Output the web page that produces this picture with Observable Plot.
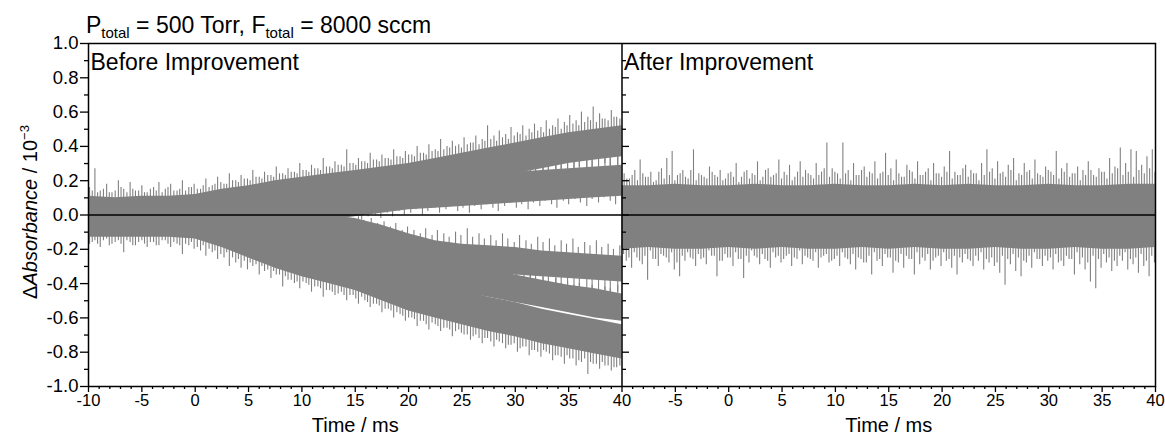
<!DOCTYPE html>
<html>
<head>
<meta charset="utf-8">
<script src="https://cdn.jsdelivr.net/npm/d3@7"></script>
<script src="https://cdn.jsdelivr.net/npm/@observablehq/plot@0.6"></script>
<style>
  html, body { margin: 0; padding: 0; background: #fff; }
  #chart svg { display: block; }
</style>
</head>
<body>
<div id="chart"></div>
<script>
// ---------------- data ----------------
const panels = ["Before Improvement", "After Improvement"];
const timeDomain = [-10, 40];
const timeTicks = [-10, -5, 0, 5, 10, 15, 20, 25, 30, 35, 40];
const yMajor = [-1.0, -0.8, -0.6, -0.4, -0.2, 0.0, 0.2, 0.4, 0.6, 0.8, 1.0];
const yMinor = [-0.9, -0.7, -0.5, -0.3, -0.1, 0.1, 0.3, 0.5, 0.7, 0.9];

// dense core of each trace (lower / upper edge), sampled every 2.5 ms
const bandTime = [-10,-7.5,-5,-2.5,0,2.5,5,7.5,10,12.5,15,17.5,20,22.5,25,27.5,30,32.5,35,37.5,40];
// Before Improvement: five traces
const u1Hi = [0.11,0.10,0.11,0.11,0.12,0.15,0.17,0.20,0.22,0.24,0.26,0.28,0.30,0.33,0.36,0.39,0.42,0.45,0.48,0.50,0.52];
const u1Lo = [-0.09,-0.09,-0.08,-0.07,-0.06,-0.03,-0.01,0.02,0.04,0.06,0.08,0.10,0.12,0.15,0.18,0.21,0.24,0.27,0.30,0.32,0.34];
const u2Hi = [0.09,0.09,0.09,0.09,0.10,0.11,0.12,0.13,0.15,0.16,0.18,0.20,0.21,0.22,0.23,0.24,0.25,0.26,0.27,0.28,0.29];
const u2Lo = [-0.09,-0.09,-0.09,-0.09,-0.08,-0.07,-0.06,-0.05,-0.04,-0.03,-0.01,0.01,0.03,0.04,0.05,0.06,0.07,0.08,0.09,0.10,0.11];
const l1Hi = [0.08,0.08,0.08,0.08,0.07,0.05,0.04,0.03,0.02,0.00,-0.02,-0.06,-0.11,-0.15,-0.17,-0.18,-0.19,-0.21,-0.22,-0.23,-0.24];
const l1Lo = [-0.10,-0.10,-0.10,-0.11,-0.12,-0.14,-0.16,-0.18,-0.21,-0.24,-0.26,-0.28,-0.30,-0.32,-0.33,-0.34,-0.35,-0.36,-0.37,-0.38,-0.39];
const l2Hi = [0.08,0.08,0.08,0.07,0.06,0.02,-0.02,-0.05,-0.09,-0.12,-0.16,-0.19,-0.22,-0.25,-0.29,-0.32,-0.35,-0.38,-0.41,-0.43,-0.46];
const l2Lo = [-0.11,-0.11,-0.11,-0.12,-0.13,-0.16,-0.19,-0.22,-0.26,-0.29,-0.32,-0.35,-0.38,-0.41,-0.45,-0.48,-0.51,-0.54,-0.57,-0.60,-0.62];
const l3Hi = [0.08,0.08,0.08,0.07,0.05,-0.01,-0.07,-0.13,-0.18,-0.22,-0.26,-0.31,-0.36,-0.40,-0.44,-0.48,-0.51,-0.55,-0.58,-0.61,-0.64];
const l3Lo = [-0.13,-0.13,-0.13,-0.13,-0.14,-0.19,-0.25,-0.31,-0.36,-0.40,-0.44,-0.50,-0.56,-0.60,-0.64,-0.68,-0.71,-0.75,-0.78,-0.81,-0.84];
// After Improvement: all traces overlap around zero
const rHi = [0.17,0.17,0.18,0.17,0.17,0.18,0.17,0.17,0.18,0.17,0.17,0.18,0.17,0.18,0.17,0.17,0.18,0.17,0.17,0.18,0.18];
const rLo = [-0.20,-0.19,-0.20,-0.20,-0.19,-0.20,-0.19,-0.20,-0.20,-0.19,-0.20,-0.19,-0.20,-0.20,-0.19,-0.20,-0.20,-0.19,-0.20,-0.20,-0.19];

// noise spikes sticking out of the cores (time, tip value)
const leftSpikeTime = [-9.9,-9.4,-8.9,-8.3,-7.8,-7.2,-6.7,-6.1,-5.6,-5.0,-4.5,-3.9,-3.4,-2.8,-2.3,-1.7,-1.2,-0.6,-0.1,0.5,1.0,1.6,2.1,2.7,3.2,3.8,4.3,4.9,5.4,6.0,6.5,7.1,7.6,8.2,8.7,9.3,9.8,10.4,10.9,11.5,12.0,12.6,13.1,13.7,14.2,14.8,15.3,15.9,16.4,17.0,17.5,18.1,18.6,19.2,19.7,20.3,20.8,21.4,21.9,22.5,23.0,23.6,24.1,24.7,25.2,25.8,26.3,26.9,27.4,28.0,28.5,29.1,29.6,30.2,30.7,31.3,31.8,32.4,32.9,33.5,34.0,34.6,35.1,35.7,36.2,36.8,37.3,37.9,38.4,39.0,39.5];
const u1SpikeTip = [0.16,0.27,0.14,0.18,0.13,0.20,0.15,0.19,0.14,0.17,0.13,0.16,0.19,0.15,0.18,0.14,0.20,0.16,0.18,0.15,0.21,0.17,0.22,0.18,0.24,0.20,0.23,0.21,0.26,0.22,0.25,0.23,0.28,0.24,0.27,0.25,0.30,0.26,0.29,0.27,0.33,0.28,0.31,0.29,0.38,0.30,0.33,0.31,0.36,0.32,0.35,0.33,0.38,0.34,0.37,0.35,0.40,0.36,0.41,0.38,0.44,0.40,0.43,0.41,0.45,0.42,0.46,0.44,0.52,0.46,0.49,0.47,0.51,0.48,0.52,0.50,0.53,0.51,0.55,0.52,0.56,0.54,0.58,0.55,0.60,0.57,0.63,0.59,0.56,0.61,0.57];
const l3SpikeTip = [-0.17,-0.15,-0.19,-0.14,-0.17,-0.15,-0.22,-0.16,-0.18,-0.15,-0.19,-0.16,-0.18,-0.15,-0.19,-0.17,-0.23,-0.18,-0.20,-0.21,-0.24,-0.22,-0.26,-0.25,-0.30,-0.28,-0.31,-0.32,-0.30,-0.35,-0.33,-0.37,-0.35,-0.42,-0.38,-0.40,-0.43,-0.40,-0.45,-0.42,-0.48,-0.44,-0.47,-0.45,-0.50,-0.47,-0.52,-0.50,-0.54,-0.52,-0.57,-0.55,-0.60,-0.58,-0.62,-0.60,-0.65,-0.62,-0.67,-0.64,-0.68,-0.66,-0.71,-0.67,-0.70,-0.73,-0.70,-0.75,-0.72,-0.77,-0.74,-0.78,-0.76,-0.80,-0.77,-0.82,-0.79,-0.83,-0.80,-0.85,-0.82,-0.87,-0.84,-0.88,-0.86,-0.93,-0.87,-0.90,-0.88,-0.91,-0.89];
// finer fuzz between the spikes
const leftFuzzTime = [-9.65,-9.15,-8.6,-8.05,-7.5,-6.95,-6.4,-5.85,-5.3,-4.75,-4.2,-3.65,-3.1,-2.55,-2.0,-1.45,-0.9,-0.35,0.2,0.75,1.3,1.85,2.4,2.95,3.5,4.05,4.6,5.15,5.7,6.25,6.8,7.35,7.9,8.45,9.0,9.55,10.1,10.65,11.2,11.75,12.3,12.85,13.4,13.95,14.5,15.05,15.6,16.15,16.7,17.25,17.8,18.35,18.9,19.45,20.0,20.55,21.1,21.65,22.2,22.75,23.3,23.85,24.4,24.95,25.5,26.05,26.6,27.15,27.7,28.25,28.8,29.35,29.9,30.45,31.0,31.55,32.1,32.65,33.2,33.75,34.3,34.85,35.4,35.95,36.5,37.05,37.6,38.15,38.7,39.25,39.8];
const u1FuzzTip = [0.14,0.13,0.15,0.13,0.14,0.16,0.13,0.15,0.14,0.13,0.15,0.14,0.13,0.16,0.14,0.15,0.14,0.16,0.15,0.17,0.16,0.18,0.19,0.18,0.20,0.19,0.21,0.20,0.22,0.21,0.23,0.22,0.24,0.23,0.25,0.24,0.26,0.25,0.27,0.26,0.28,0.27,0.29,0.28,0.30,0.29,0.31,0.30,0.32,0.31,0.33,0.32,0.34,0.33,0.35,0.34,0.36,0.35,0.37,0.37,0.38,0.39,0.40,0.39,0.41,0.42,0.41,0.43,0.44,0.43,0.45,0.44,0.46,0.47,0.46,0.48,0.49,0.48,0.50,0.51,0.50,0.52,0.53,0.52,0.54,0.55,0.54,0.56,0.55,0.57,0.56];
const l3FuzzTip = [-0.16,-0.17,-0.15,-0.18,-0.16,-0.17,-0.15,-0.18,-0.16,-0.17,-0.16,-0.18,-0.15,-0.17,-0.16,-0.18,-0.17,-0.16,-0.19,-0.18,-0.20,-0.21,-0.23,-0.22,-0.25,-0.26,-0.27,-0.28,-0.29,-0.30,-0.32,-0.33,-0.35,-0.36,-0.38,-0.39,-0.39,-0.41,-0.42,-0.43,-0.44,-0.45,-0.46,-0.47,-0.47,-0.49,-0.48,-0.51,-0.52,-0.53,-0.55,-0.56,-0.57,-0.59,-0.60,-0.61,-0.62,-0.64,-0.63,-0.65,-0.66,-0.67,-0.68,-0.69,-0.70,-0.71,-0.72,-0.72,-0.74,-0.73,-0.75,-0.76,-0.75,-0.78,-0.77,-0.79,-0.80,-0.79,-0.81,-0.82,-0.83,-0.82,-0.84,-0.85,-0.84,-0.86,-0.87,-0.86,-0.88,-0.89,-0.88];
const u2SpikeTime = [15.6,16.2,16.9,17.4,18.0,18.5,19.1,19.6,20.2,20.7,21.3,21.8,22.4,22.9,23.5,24.0,24.6,25.1,25.7,26.2,26.8,27.3,27.9,28.4,29.0,29.5,30.1,30.6,31.2,31.7,32.3,32.8,33.4,33.9,34.5,35.0,35.6,36.1,36.7,37.2,37.8,38.3,38.9,39.4];
const u2SpikeTip = [-0.03,-0.01,0.00,-0.02,0.01,-0.01,0.02,0.00,0.01,0.03,0.00,0.02,0.04,0.01,0.03,0.05,0.02,0.04,0.01,0.05,0.03,0.06,0.04,0.02,0.05,0.07,0.04,0.06,0.03,0.07,0.05,0.08,0.06,0.04,0.08,0.06,0.09,0.07,0.05,0.09,0.07,0.10,0.08,0.06];
const l1SpikeTime = [15.3,15.8,16.5,17.1,17.7,18.3,18.8,19.4,19.9,20.5,21.1,21.6,22.2,22.7,23.3,23.8,24.4,24.9,25.5,26.0,26.6,27.1,27.7,28.2,28.8,29.3,29.9,30.4,31.0,31.5,32.1,32.6,33.2,33.7,34.3,34.8,35.4,35.9,36.5,37.0,37.6,38.1,38.7,39.2,39.8];
const l1SpikeTip = [-0.01,-0.03,-0.02,-0.05,-0.04,-0.07,-0.05,-0.09,-0.07,-0.09,-0.11,-0.08,-0.12,-0.09,-0.11,-0.13,-0.10,-0.12,-0.08,-0.13,-0.11,-0.14,-0.12,-0.15,-0.11,-0.14,-0.16,-0.12,-0.15,-0.17,-0.13,-0.16,-0.14,-0.18,-0.15,-0.17,-0.14,-0.19,-0.16,-0.18,-0.15,-0.19,-0.17,-0.20,-0.18];
// strands reaching into the gaps between separated traces
const innerTime = [28.3,28.9,29.6,30.1,30.8,31.4,31.9,32.6,33.1,33.8,34.3,34.9,35.5,36.0,36.7,37.2,37.8,38.4,38.9,39.6];
const u1InnerTip = [0.19,0.21,0.18,0.22,0.20,0.23,0.21,0.24,0.22,0.26,0.23,0.25,0.24,0.28,0.25,0.27,0.26,0.30,0.27,0.29];
const u2InnerTip = [0.29,0.30,0.28,0.31,0.29,0.32,0.30,0.31,0.33,0.30,0.34,0.31,0.33,0.35,0.32,0.34,0.36,0.33,0.35,0.37];
const l1InnerTip = [-0.40,-0.38,-0.41,-0.39,-0.42,-0.40,-0.43,-0.41,-0.44,-0.42,-0.43,-0.45,-0.42,-0.44,-0.46,-0.43,-0.45,-0.44,-0.47,-0.45];
const l2InnerTip = [-0.31,-0.33,-0.32,-0.34,-0.36,-0.35,-0.37,-0.36,-0.39,-0.37,-0.40,-0.39,-0.41,-0.40,-0.43,-0.41,-0.44,-0.42,-0.43,-0.41];
// After Improvement spikes
const rUpTime = [-9.8,-9.3,-8.8,-8.3,-7.8,-7.3,-6.8,-6.3,-5.8,-5.3,-4.8,-4.3,-3.8,-3.3,-2.8,-2.3,-1.8,-1.3,-0.8,-0.3,0.2,0.7,1.2,1.7,2.2,2.7,3.2,3.7,4.2,4.7,5.2,5.7,6.2,6.7,7.2,7.7,8.2,8.7,9.2,9.7,10.2,10.7,11.2,11.7,12.2,12.7,13.2,13.7,14.2,14.7,15.2,15.7,16.2,16.7,17.2,17.7,18.2,18.7,19.2,19.7,20.2,20.7,21.2,21.7,22.2,22.7,23.2,23.7,24.2,24.7,25.2,25.7,26.2,26.7,27.2,27.7,28.2,28.7,29.2,29.7,30.2,30.7,31.2,31.7,32.2,32.7,33.2,33.7,34.2,34.7,35.2,35.7,36.2,36.7,37.2,37.7,38.2,38.7,39.2,39.7];
const rUpTip = [0.24,0.21,0.26,0.32,0.22,0.25,0.20,0.27,0.33,0.37,0.23,0.26,0.21,0.38,0.24,0.22,0.28,0.23,0.26,0.21,0.25,0.30,0.22,0.26,0.24,0.31,0.22,0.27,0.23,0.32,0.25,0.29,0.22,0.31,0.26,0.23,0.30,0.25,0.42,0.27,0.24,0.42,0.26,0.30,0.23,0.28,0.25,0.31,0.24,0.36,0.27,0.32,0.22,0.29,0.25,0.31,0.23,0.27,0.30,0.24,0.28,0.37,0.25,0.23,0.29,0.26,0.24,0.30,0.38,0.27,0.31,0.25,0.29,0.33,0.24,0.30,0.26,0.32,0.23,0.28,0.25,0.37,0.27,0.30,0.24,0.28,0.26,0.31,0.23,0.27,0.25,0.33,0.28,0.39,0.30,0.38,0.37,0.29,0.34,0.38];
const rDnTime = [-9.6,-9.1,-8.6,-8.1,-7.6,-7.1,-6.6,-6.1,-5.6,-5.1,-4.6,-4.1,-3.6,-3.1,-2.6,-2.1,-1.6,-1.1,-0.6,-0.1,0.4,0.9,1.4,1.9,2.4,2.9,3.4,3.9,4.4,4.9,5.4,5.9,6.4,6.9,7.4,7.9,8.4,8.9,9.4,9.9,10.4,10.9,11.4,11.9,12.4,12.9,13.4,13.9,14.4,14.9,15.4,15.9,16.4,16.9,17.4,17.9,18.4,18.9,19.4,19.9,20.4,20.9,21.4,21.9,22.4,22.9,23.4,23.9,24.4,24.9,25.4,25.9,26.4,26.9,27.4,27.9,28.4,28.9,29.4,29.9,30.4,30.9,31.4,31.9,32.4,32.9,33.4,33.9,34.4,34.9,35.4,35.9,36.4,36.9,37.4,37.9,38.4,38.9,39.4,39.9];
const rDnTip = [-0.27,-0.31,-0.25,-0.29,-0.38,-0.26,-0.30,-0.24,-0.28,-0.32,-0.36,-0.27,-0.25,-0.30,-0.26,-0.29,-0.24,-0.36,-0.27,-0.25,-0.30,-0.26,-0.37,-0.28,-0.24,-0.29,-0.26,-0.31,-0.25,-0.28,-0.24,-0.30,-0.26,-0.29,-0.25,-0.27,-0.31,-0.24,-0.28,-0.26,-0.30,-0.25,-0.29,-0.32,-0.26,-0.28,-0.35,-0.27,-0.30,-0.25,-0.34,-0.28,-0.31,-0.26,-0.35,-0.29,-0.27,-0.32,-0.25,-0.30,-0.27,-0.31,-0.35,-0.28,-0.26,-0.30,-0.27,-0.32,-0.28,-0.30,-0.34,-0.41,-0.29,-0.33,-0.36,-0.28,-0.31,-0.26,-0.30,-0.27,-0.32,-0.28,-0.30,-0.26,-0.35,-0.29,-0.32,-0.39,-0.43,-0.31,-0.28,-0.33,-0.30,-0.27,-0.32,-0.29,-0.34,-0.30,-0.36,-0.28];
const rUpFuzzTime = [-9.55,-9.05,-8.55,-8.05,-7.55,-7.05,-6.55,-6.05,-5.55,-5.05,-4.55,-4.05,-3.55,-3.05,-2.55,-2.05,-1.55,-1.05,-0.55,-0.05,0.45,0.95,1.45,1.95,2.45,2.95,3.45,3.95,4.45,4.95,5.45,5.95,6.45,6.95,7.45,7.95,8.45,8.95,9.45,9.95,10.45,10.95,11.45,11.95,12.45,12.95,13.45,13.95,14.45,14.95,15.45,15.95,16.45,16.95,17.45,17.95,18.45,18.95,19.45,19.95,20.45,20.95,21.45,21.95,22.45,22.95,23.45,23.95,24.45,24.95,25.45,25.95,26.45,26.95,27.45,27.95,28.45,28.95,29.45,29.95,30.45,30.95,31.45,31.95,32.45,32.95,33.45,33.95,34.45,34.95,35.45,35.95,36.45,36.95,37.45,37.95,38.45,38.95,39.45,39.95];
const rUpFuzzTip = [0.21,0.23,0.20,0.24,0.22,0.19,0.25,0.21,0.23,0.20,0.24,0.22,0.26,0.20,0.23,0.21,0.25,0.22,0.20,0.24,0.22,0.19,0.25,0.21,0.23,0.20,0.26,0.22,0.24,0.21,0.23,0.20,0.25,0.22,0.24,0.21,0.23,0.27,0.22,0.25,0.21,0.24,0.20,0.23,0.26,0.22,0.24,0.21,0.25,0.23,0.20,0.24,0.22,0.26,0.21,0.23,0.25,0.20,0.24,0.22,0.25,0.21,0.23,0.27,0.22,0.24,0.20,0.23,0.25,0.21,0.24,0.22,0.26,0.20,0.23,0.25,0.21,0.24,0.22,0.26,0.23,0.21,0.25,0.22,0.24,0.20,0.23,0.26,0.22,0.25,0.21,0.24,0.27,0.23,0.25,0.22,0.26,0.24,0.27,0.25];
const rDnFuzzTime = [-9.85,-9.35,-8.85,-8.35,-7.85,-7.35,-6.85,-6.35,-5.85,-5.35,-4.85,-4.35,-3.85,-3.35,-2.85,-2.35,-1.85,-1.35,-0.85,-0.35,0.15,0.65,1.15,1.65,2.15,2.65,3.15,3.65,4.15,4.65,5.15,5.65,6.15,6.65,7.15,7.65,8.15,8.65,9.15,9.65,10.15,10.65,11.15,11.65,12.15,12.65,13.15,13.65,14.15,14.65,15.15,15.65,16.15,16.65,17.15,17.65,18.15,18.65,19.15,19.65,20.15,20.65,21.15,21.65,22.15,22.65,23.15,23.65,24.15,24.65,25.15,25.65,26.15,26.65,27.15,27.65,28.15,28.65,29.15,29.65,30.15,30.65,31.15,31.65,32.15,32.65,33.15,33.65,34.15,34.65,35.15,35.65,36.15,36.65,37.15,37.65,38.15,38.65,39.15,39.65];
const rDnFuzzTip = [-0.23,-0.25,-0.22,-0.27,-0.24,-0.21,-0.26,-0.23,-0.25,-0.22,-0.28,-0.24,-0.22,-0.26,-0.23,-0.25,-0.21,-0.24,-0.27,-0.23,-0.25,-0.22,-0.26,-0.24,-0.21,-0.25,-0.23,-0.27,-0.22,-0.24,-0.26,-0.23,-0.25,-0.21,-0.24,-0.26,-0.22,-0.25,-0.23,-0.27,-0.24,-0.22,-0.26,-0.23,-0.25,-0.28,-0.24,-0.22,-0.26,-0.23,-0.25,-0.27,-0.23,-0.24,-0.26,-0.22,-0.25,-0.23,-0.27,-0.24,-0.22,-0.26,-0.24,-0.25,-0.23,-0.27,-0.24,-0.22,-0.26,-0.25,-0.28,-0.24,-0.26,-0.23,-0.25,-0.27,-0.24,-0.22,-0.26,-0.24,-0.25,-0.23,-0.27,-0.24,-0.26,-0.22,-0.25,-0.28,-0.24,-0.26,-0.23,-0.25,-0.27,-0.24,-0.22,-0.26,-0.25,-0.23,-0.27,-0.24];

// ---------------- tables for Plot ----------------
const span = timeDomain[1] - timeDomain[0];            // panels sit side by side on one x scale
const mid = (timeDomain[0] + timeDomain[1]) / 2;
const traces = [
  {name: "u1", panel: 0, lo: u1Lo, hi: u1Hi},
  {name: "u2", panel: 0, lo: u2Lo, hi: u2Hi},
  {name: "l1", panel: 0, lo: l1Lo, hi: l1Hi},
  {name: "l2", panel: 0, lo: l2Lo, hi: l2Hi},
  {name: "l3", panel: 0, lo: l3Lo, hi: l3Hi},
  {name: "r",  panel: 1, lo: rLo,  hi: rHi}
];
const bands = traces.flatMap(tr => bandTime.map((t, i) => ({
  x: t + tr.panel * span, lo: tr.lo[i], hi: tr.hi[i], trace: tr.name
})));
// reach = how far each spike line runs back into its trace core (null → back to zero)
const spikeSets = [
  {panel: 0, time: leftSpikeTime, tip: u1SpikeTip, reach: -0.2},
  {panel: 0, time: leftSpikeTime, tip: l3SpikeTip, reach: 0.2},
  {panel: 0, time: leftFuzzTime, tip: u1FuzzTip, reach: -0.1},
  {panel: 0, time: leftFuzzTime, tip: l3FuzzTip, reach: 0.1},
  {panel: 0, time: u2SpikeTime, tip: u2SpikeTip, reach: 0.15},
  {panel: 0, time: l1SpikeTime, tip: l1SpikeTip, reach: -0.15},
  {panel: 0, time: innerTime, tip: u1InnerTip, reach: 0.1},
  {panel: 0, time: innerTime, tip: u2InnerTip, reach: -0.1},
  {panel: 0, time: innerTime, tip: l1InnerTip, reach: 0.1},
  {panel: 0, time: innerTime, tip: l2InnerTip, reach: -0.1},
  {panel: 1, time: rUpTime, tip: rUpTip, reach: null},
  {panel: 1, time: rDnTime, tip: rDnTip, reach: null},
  {panel: 1, time: rUpFuzzTime, tip: rUpFuzzTip, reach: null},
  {panel: 1, time: rDnFuzzTime, tip: rDnFuzzTip, reach: null}
];
const spikes = spikeSets.flatMap(s => s.time.map((t, i) => ({
  x: t + s.panel * span,
  tip: s.tip[i],
  base: s.reach == null ? 0 : s.tip[i] + s.reach
}))).filter(d => d.tip != null);

const xMajor = timeTicks.concat(timeTicks.slice(1).map(v => v + span));
const xMinor = d3.range(timeDomain[0], timeDomain[1] + span + 1).filter(v => v % 5 !== 0);
const xFormat = v => String(v > timeDomain[1] ? v - span : v);
const tickRight = len => ({draw(ctx) { ctx.moveTo(0, 0); ctx.lineTo(len, 0); }});
const gray = "#808080";

const plot = Plot.plot({
  width: 1165,
  height: 435,
  marginLeft: 88,
  marginRight: 10,
  marginTop: 43,
  marginBottom: 49,
  style: {fontFamily: "'Liberation Sans', Arial, Helvetica, sans-serif", fontSize: "17px", color: "black", background: "white"},
  x: {domain: [timeDomain[0], timeDomain[1] + span], label: null},
  y: {domain: [-1, 1], label: null},
  marks: [
    Plot.areaY(bands, {x: "x", y1: "lo", y2: "hi", z: "trace", fill: gray}),
    Plot.ruleX(spikes, {x: "x", y1: "tip", y2: "base", stroke: gray, strokeWidth: 1.1}),
    Plot.ruleY([0], {stroke: "black", strokeWidth: 1.3}),
    Plot.ruleX([timeDomain[1]], {stroke: "black", strokeWidth: 1.5}),
    Plot.frame({stroke: "black", strokeWidth: 1.5}),
    Plot.axisY({ticks: yMajor, tickSize: 8, tickPadding: 2, tickFormat: d => d.toFixed(1), fontSize: 18.5, strokeWidth: 1.3, label: null}),
    Plot.axisY({ticks: yMinor, tickSize: 4, tickFormat: () => "", strokeWidth: 1.3, label: null}),
    Plot.axisX({ticks: xMajor, tickSize: 6, tickPadding: 2, tickFormat: xFormat, fontSize: 16.5, strokeWidth: 1.3, label: null}),
    Plot.axisX({ticks: xMinor, tickSize: 3, tickFormat: () => "", strokeWidth: 1.3, label: null}),
    Plot.dot(yMajor.slice(1, -1), {x: () => timeDomain[1], y: d => d, symbol: tickRight(7), stroke: "black", strokeWidth: 1.3}),
    Plot.dot(yMinor, {x: () => timeDomain[1], y: d => d, symbol: tickRight(4), stroke: "black", strokeWidth: 1.3}),
    Plot.text(panels, {x: (d, i) => timeDomain[0] + i * span, text: d => d, frameAnchor: "top", textAnchor: "start", lineAnchor: "top", dx: 2, dy: 10, fontSize: 23, fill: "black"}),
    Plot.text(panels, {x: (d, i) => mid + i * span, text: () => "Time / ms", frameAnchor: "bottom", lineAnchor: "bottom", dy: 45, fontSize: 20, fill: "black"})
  ]
});

const svg = d3.select(plot);
// title with subscripts
const title = svg.append("text").attr("x", 86).attr("y", 33).attr("text-anchor", "start").attr("fill", "black").style("font-size", "23px");
title.append("tspan").text("P");
title.append("tspan").attr("dy", 5).style("font-size", "15px").text("total");
title.append("tspan").attr("dy", -5).text(" = 500 Torr, F");
title.append("tspan").attr("dy", 5).style("font-size", "15px").text("total");
title.append("tspan").attr("dy", -5).text(" = 8000 sccm");
// y axis title
const ylab = svg.append("text").attr("transform", "translate(37,212) rotate(-90)").attr("text-anchor", "middle").attr("fill", "black").style("font-size", "20px");
ylab.append("tspan").text("Δ");
ylab.append("tspan").style("font-style", "italic").text("Absorbance");
ylab.append("tspan").text(" / 10");
ylab.append("tspan").attr("dy", -8).style("font-size", "13px").text("−3");

document.getElementById("chart").appendChild(plot);
</script>
</body>
</html>
